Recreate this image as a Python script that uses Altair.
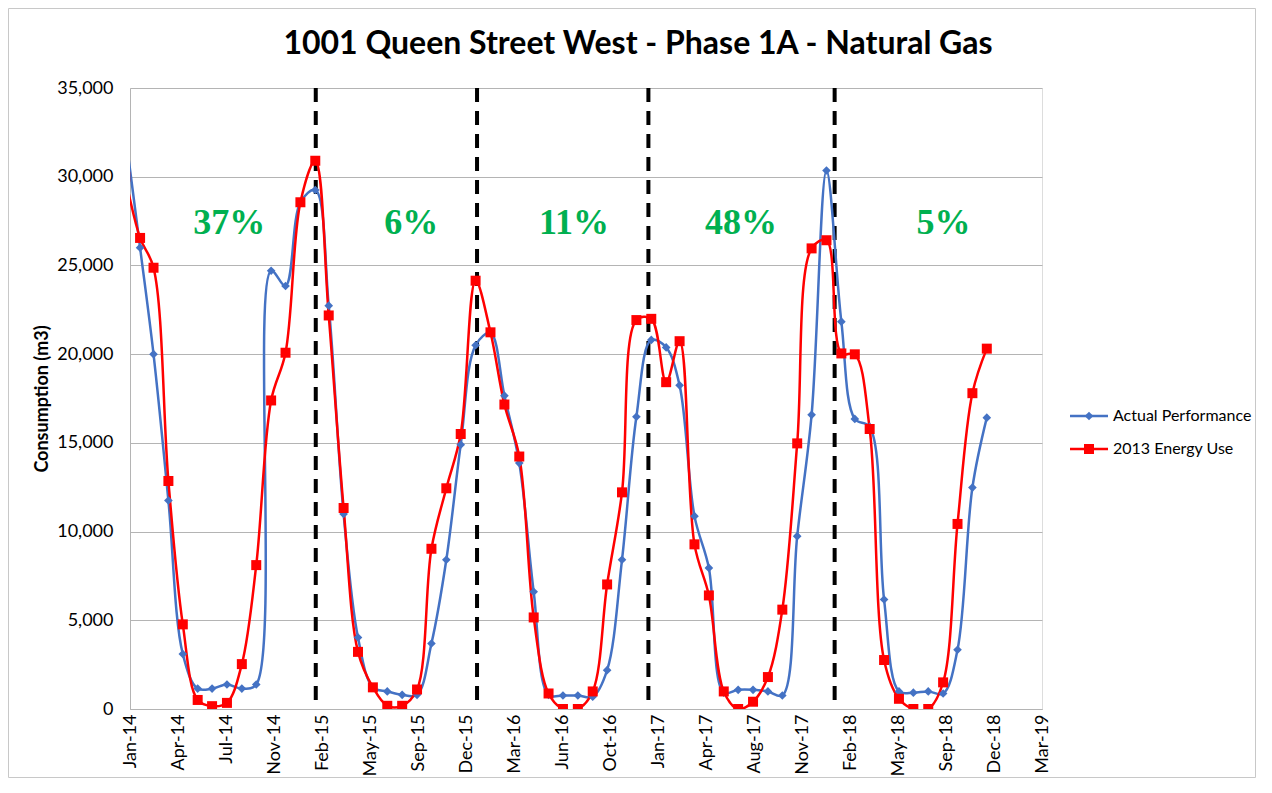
import altair as alt
import pandas as pd

# ---------------- data ----------------
dates = [
    "2014-01-01", "2014-02-01", "2014-03-01", "2014-04-01", "2014-05-01", "2014-06-01",
    "2014-07-01", "2014-08-01", "2014-09-01", "2014-10-01", "2014-11-01", "2014-12-01",
    "2015-01-01", "2015-02-01", "2015-03-01", "2015-04-01", "2015-05-01", "2015-06-01",
    "2015-07-01", "2015-08-01", "2015-09-01", "2015-10-01", "2015-11-01", "2015-12-01",
    "2016-01-01", "2016-02-01", "2016-03-01", "2016-04-01", "2016-05-01", "2016-06-01",
    "2016-07-01", "2016-08-01", "2016-09-01", "2016-10-01", "2016-11-01", "2016-12-01",
    "2017-01-01", "2017-02-01", "2017-03-01", "2017-04-01", "2017-05-01", "2017-06-01",
    "2017-07-01", "2017-08-01", "2017-09-01", "2017-10-01", "2017-11-01", "2017-12-01",
    "2018-01-01", "2018-02-01", "2018-03-01", "2018-04-01", "2018-05-01", "2018-06-01",
    "2018-07-01", "2018-08-01", "2018-09-01", "2018-10-01", "2018-11-01", "2018-12-01",
]

actual_performance = [
    32500, 26000, 20000, 11750, 3100, 1150, 1150, 1380, 1150, 1380, 24700, 23840,
    28560, 29250, 22730, 10990, 4030, 1220, 990, 800, 800, 3690, 8410, 14900,
    20500, 21190, 17660, 13860, 6610, 800, 760, 760, 690, 2190, 8410, 16470,
    20800, 20380, 18240, 10870, 7950, 920, 1080, 1080, 990, 760, 9740, 16580,
    30350, 21830, 16350, 15900, 6170, 990, 920, 990, 875, 3340, 12480, 16420,
]

energy_use_2013 = [
    30000, 26550, 24870, 12850, 4770, 510, 160, 345, 2530, 8110, 17390, 20080,
    28560, 30900, 22180, 11330, 3220, 1220, 180, 180, 1100, 9030, 12440, 15500,
    24140, 21230, 17160, 14230, 5160, 875, 0, 0, 990, 7020, 12210, 21920,
    21990, 18420, 20730, 9280, 6400, 990, 0, 410, 1800, 5600, 14970, 25960,
    26420, 20040, 19990, 15780, 2760, 575, 0, 0, 1500, 10430, 17800, 20310,
]

series_names = ["Actual Performance", "2013 Energy Use"]
series_colors = ["#4472C4", "#FF0000"]
series_shapes = ["diamond", "square"]
series_sizes = [75, 100]

divider_dates = ["2015-02-02", "2016-01-04", "2016-12-26", "2018-01-18"]

pct_labels = ["37%", "6%", "11%", "48%", "5%"]
pct_dates = ["2014-08-06", "2015-08-20", "2016-07-24", "2017-07-07", "2018-09-02"]
pct_level = 27400

tick_dates = [
    "2014-01-11", "2014-04-21", "2014-07-30", "2014-11-07", "2015-02-15",
    "2015-05-26", "2015-09-03", "2015-12-12", "2016-03-21", "2016-06-29",
    "2016-10-07", "2017-01-15", "2017-04-25", "2017-08-03", "2017-11-11",
    "2018-02-19", "2018-05-30", "2018-09-07", "2018-12-16", "2019-03-26",
]
x_domain = ["2014-01-11", "2019-03-26"]
y_ticks = [0, 5000, 10000, 15000, 20000, 25000, 30000, 35000]

title_text = "1001 Queen Street West - Phase 1A - Natural Gas"
y_title = "Consumption (m3)"


def ms(s):
    return int(pd.Timestamp(s, tz="UTC").timestamp() * 1000)


# ---------------- tables ----------------
df = pd.DataFrame({
    "date": [ms(d) for d in dates] * 2,
    "value": actual_performance + energy_use_2013,
    "series": [series_names[0]] * len(dates) + [series_names[1]] * len(dates),
})
div_df = pd.DataFrame({"date": [ms(d) for d in divider_dates]})
pct_df = pd.DataFrame({
    "date": [ms(d) for d in pct_dates],
    "value": [pct_level] * len(pct_labels),
    "label": pct_labels,
})

W, H = 912, 621
PAD = {"left": 122, "top": 80, "right": 214, "bottom": 69}
FONT = "Lato"
GRID = "#B4B4B4"

x_enc = alt.X(
    "date:T",
    scale=alt.Scale(type="utc", domain=[ms(d) for d in x_domain], nice=False),
    axis=alt.Axis(
        values=[ms(d) for d in tick_dates],
        labelExpr="utcFormat(datum.value, '%b-%y')",
        labelAngle=270, labelAlign="right", labelBaseline="middle",
        labelPadding=5, labelFont=FONT, labelFontSize=18, labelColor="black",
        labelOverlap=False, labelFlush=False,
        ticks=False, grid=False, domain=True, domainColor=GRID, domainWidth=1,
        title=None,
    ),
)
y_enc = alt.Y(
    "value:Q",
    scale=alt.Scale(domain=[0, 35000], nice=False, zero=True),
    axis=alt.Axis(
        values=y_ticks, format=",.0f",
        labelFont=FONT, labelFontSize=18, labelColor="black", labelPadding=17,
        ticks=False, grid=True, gridColor=GRID, gridWidth=1,
        domain=True, domainColor=GRID, domainWidth=1,
        title=y_title, titleFont=FONT, titleFontSize=18, titleFontWeight="bold",
        titleColor="black", titleAngle=270, titleX=-88, titleY=H / 2,
        titleAlign="center", titleBaseline="middle",
    ),
)
color_enc = alt.Color(
    "series:N", scale=alt.Scale(domain=series_names, range=series_colors), legend=None
)

# light frame around the whole chart area (decoration)
frame = alt.Chart(pd.DataFrame({"k": [0]})).mark_rect(
    filled=False, stroke="#C8C8C8", strokeWidth=1
).encode(
    x=alt.value(-PAD["left"] + 0.5), x2=alt.value(W + PAD["right"] - 0.5),
    y=alt.value(-PAD["top"] + 0.5), y2=alt.value(H + PAD["bottom"] - 0.5),
)

rules = alt.Chart(div_df).mark_rule(
    color="black", strokeWidth=4, strokeDash=[14, 9]
).encode(x=x_enc)

lines = alt.Chart(df).mark_line(
    interpolate="catmull-rom", strokeWidth=2.5, clip=True
).encode(x=x_enc, y=y_enc, color=color_enc)

points = alt.Chart(df).mark_point(filled=True, opacity=1, clip=True).encode(
    x=x_enc, y=y_enc, color=color_enc,
    shape=alt.Shape("series:N", scale=alt.Scale(domain=series_names, range=series_shapes), legend=None),
    size=alt.Size("series:N", scale=alt.Scale(domain=series_names, range=series_sizes), legend=None),
)

pct_text = alt.Chart(pct_df).mark_text(
    font="Liberation Serif", fontWeight="bold", fontSize=36, color="#00B050",
    align="center", baseline="middle",
).encode(x=x_enc, y=y_enc, text="label:N")

# manual legend (line + marker + label)
legend_layers = []
for i, name in enumerate(series_names):
    ldf = pd.DataFrame({"series": [name]})
    ypix = 328 + 33 * i
    legend_layers.append(
        alt.Chart(ldf).mark_rule(color=series_colors[i], strokeWidth=2.5).encode(
            x=alt.value(940), x2=alt.value(978), y=alt.value(ypix)
        )
    )
    legend_layers.append(
        alt.Chart(ldf).mark_point(
            shape=series_shapes[i], filled=True, opacity=1, color=series_colors[i],
            size=series_sizes[i],
        ).encode(x=alt.value(959), y=alt.value(ypix))
    )
    legend_layers.append(
        alt.Chart(ldf).mark_text(
            font=FONT, fontSize=16, color="black", align="left", baseline="middle"
        ).encode(x=alt.value(983), y=alt.value(ypix), text="series:N")
    )

chart = alt.layer(frame, rules, lines, points, pct_text, *legend_layers).properties(
    width=W, height=H,
    autosize=alt.AutoSizeParams(type="none"),
    padding=PAD,
    title=alt.TitleParams(
        title_text, font=FONT, fontSize=32, fontWeight="bold", color="black",
        anchor="middle", frame="group", dx=52, dy=104, offset=26, baseline="alphabetic",
    ),
).configure_view(strokeWidth=0).configure(background="white").configure_axisY(
    titleFontSize=18, titleFont=FONT, titleFontWeight="bold"
)

chart.save("out.html", embed_options={"renderer": "svg", "actions": False})
